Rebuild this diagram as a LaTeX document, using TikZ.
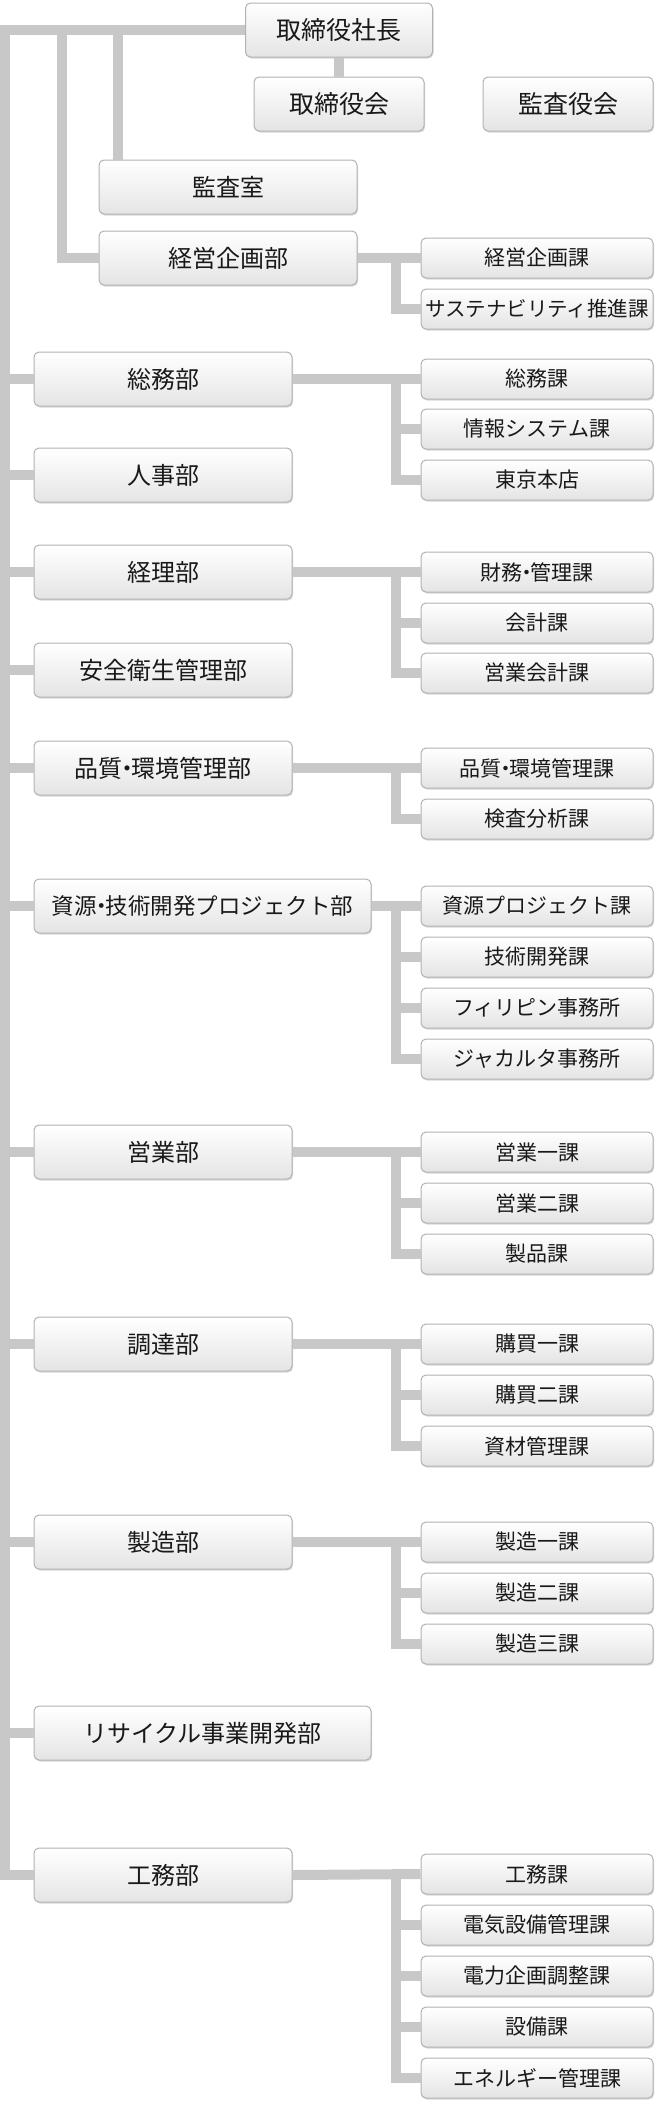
\documentclass[tikz,border=0pt]{standalone}
\usepackage{fontspec}
\setmainfont{Noto Sans CJK JP}
\usetikzlibrary{shadows}
\definecolor{linegray}{RGB}{200,200,200}
\definecolor{boxline}{RGB}{178,178,178}
\definecolor{boxbot}{RGB}{228,228,228}
\definecolor{txt}{RGB}{25,25,25}
\newcommand{\nakadot}{\kern-.3em・\kern-.3em}

\begin{document}
\begin{tikzpicture}[x=1pt,y=-1pt,
    box/.style={draw=boxline,line width=1pt,rounded corners=5pt,top color=white,bottom color=boxbot,
        drop shadow={shadow xshift=1pt,shadow yshift=-1.5pt,opacity=.3},text=txt,inner sep=0pt},
    tnode/.style={box,minimum width=170pt,minimum height=54pt,font=\fontsize{25}{30}\selectfont},
    dnode/.style={box,minimum width=258pt,minimum height=54pt,font=\fontsize{24}{28}\selectfont},
    wnode/.style={dnode,minimum width=337pt},
    snode/.style={box,minimum width=232pt,minimum height=40pt,font=\fontsize{21}{25}\selectfont},
    conn/.style={draw=linegray,line width=10pt,line join=miter}]
    \useasboundingbox (0,0) rectangle (658,2104);

    % top
    \node[tnode,minimum width=187pt] (p) at (339,30) {取締役社長};
    \node[tnode] (b) at (339,104) {取締役会};
    \node[tnode] (ab) at (568,104) {監査役会};
    \node[dnode] (a) at (228,187) {監査室};

    % departments
    \node[dnode] (d0) at (228,258) {経営企画部};
    \node[dnode] (d1) at (163,379) {総務部};
    \node[dnode] (d2) at (163,475) {人事部};
    \node[dnode] (d3) at (163,572) {経理部};
    \node[dnode] (d4) at (163,670) {安全衛生管理部};
    \node[dnode] (d5) at (163,768) {品質\nakadot 環境管理部};
    \node[wnode,font=\fontsize{22.5}{27}\selectfont] (d6) at (202.5,906) {資源\nakadot 技術開発プロジェクト部};
    \node[dnode] (d7) at (163,1152) {営業部};
    \node[dnode] (d8) at (163,1344) {調達部};
    \node[dnode] (d9) at (163,1542) {製造部};
    \node[wnode] (d10) at (202.5,1733) {リサイクル事業開発部};
    \node[dnode] (d11) at (163,1875) {工務部};

    % sections
    \node[snode] (s0a) at (537,258) {経営企画課};
    \node[snode,font=\fontsize{20.5}{25}\selectfont] (s0b) at (537,309) {サステナビリティ推進課};
    \node[snode] (s1a) at (537,379) {総務課};
    \node[snode] (s1b) at (537,429) {情報システム課};
    \node[snode] (s1c) at (537,480) {東京本店};
    \node[snode] (s3a) at (537,572) {財務\nakadot 管理課};
    \node[snode] (s3b) at (537,623) {会計課};
    \node[snode] (s3c) at (537,673) {営業会計課};
    \node[snode] (s5a) at (537,768) {品質\nakadot 環境管理課};
    \node[snode] (s5b) at (537,819) {検査分析課};
    \node[snode] (s6a) at (537,906) {資源プロジェクト課};
    \node[snode] (s6b) at (537,957) {技術開発課};
    \node[snode] (s6c) at (537,1008) {フィリピン事務所};
    \node[snode] (s6d) at (537,1059) {ジャカルタ事務所};
    \node[snode] (s7a) at (537,1152) {営業一課};
    \node[snode] (s7b) at (537,1203) {営業二課};
    \node[snode] (s7c) at (537,1254) {製品課};
    \node[snode] (s8a) at (537,1344) {購買一課};
    \node[snode] (s8b) at (537,1395) {購買二課};
    \node[snode] (s8c) at (537,1446) {資材管理課};
    \node[snode] (s9a) at (537,1542) {製造一課};
    \node[snode] (s9b) at (537,1593) {製造二課};
    \node[snode] (s9c) at (537,1644) {製造三課};
    \node[snode] (s11a) at (537,1874) {工務課};
    \node[snode] (s11b) at (537,1925) {電気設備管理課};
    \node[snode] (s11c) at (537,1976) {電力企画調整課};
    \node[snode] (s11d) at (537,2027) {設備課};
    \node[snode] (s11e) at (537,2078) {エネルギー管理課};

    \coordinate (t) at (5,30);
    \coordinate (k1) at (62,30);
    \coordinate (k2) at (118,30);

    % trunk
    \draw[conn] (p.west) -- (t) |- (d11.west);
    \draw[conn] (p.south) -- (b.north);
    \draw[conn] (k2) -- (k2 |- a.north);
    \draw[conn] (k1) |- (d0.west);
    \draw[conn] (d1.west) -- (d1.west -| t);
    \draw[conn] (d2.west) -- (d2.west -| t);
    \draw[conn] (d3.west) -- (d3.west -| t);
    \draw[conn] (d4.west) -- (d4.west -| t);
    \draw[conn] (d5.west) -- (d5.west -| t);
    \draw[conn] (d6.west) -- (d6.west -| t);
    \draw[conn] (d7.west) -- (d7.west -| t);
    \draw[conn] (d8.west) -- (d8.west -| t);
    \draw[conn] (d9.west) -- (d9.west -| t);
    \draw[conn] (d10.west) -- (d10.west -| t);

    % branches
    \draw[conn] (d0.east) -- (s0a.west);
    \draw[conn] (s0a.west) ++(-25,0) |- (s0b.west);
    \draw[conn] (d1.east) -- (s1a.west);
    \draw[conn] (s1a.west) ++(-25,0) |- (s1c.west);
    \draw[conn] (s1b.west) -- ++(-25,0);
    \draw[conn] (d3.east) -- (s3a.west);
    \draw[conn] (s3a.west) ++(-25,0) |- (s3c.west);
    \draw[conn] (s3b.west) -- ++(-25,0);
    \draw[conn] (d5.east) -- (s5a.west);
    \draw[conn] (s5a.west) ++(-25,0) |- (s5b.west);
    \draw[conn] (d6.east) -- (s6a.west);
    \draw[conn] (s6a.west) ++(-25,0) |- (s6d.west);
    \draw[conn] (s6b.west) -- ++(-25,0);
    \draw[conn] (s6c.west) -- ++(-25,0);
    \draw[conn] (d7.east) -- (s7a.west);
    \draw[conn] (s7a.west) ++(-25,0) |- (s7c.west);
    \draw[conn] (s7b.west) -- ++(-25,0);
    \draw[conn] (d8.east) -- (s8a.west);
    \draw[conn] (s8a.west) ++(-25,0) |- (s8c.west);
    \draw[conn] (s8b.west) -- ++(-25,0);
    \draw[conn] (d9.east) -- (s9a.west);
    \draw[conn] (s9a.west) ++(-25,0) |- (s9c.west);
    \draw[conn] (s9b.west) -- ++(-25,0);
    \draw[conn] (d11.east) -- (s11a.west);
    \draw[conn] (s11a.west) ++(-25,0) |- (s11e.west);
    \draw[conn] (s11b.west) -- ++(-25,0);
    \draw[conn] (s11c.west) -- ++(-25,0);
    \draw[conn] (s11d.west) -- ++(-25,0);
\end{tikzpicture}
\end{document}
